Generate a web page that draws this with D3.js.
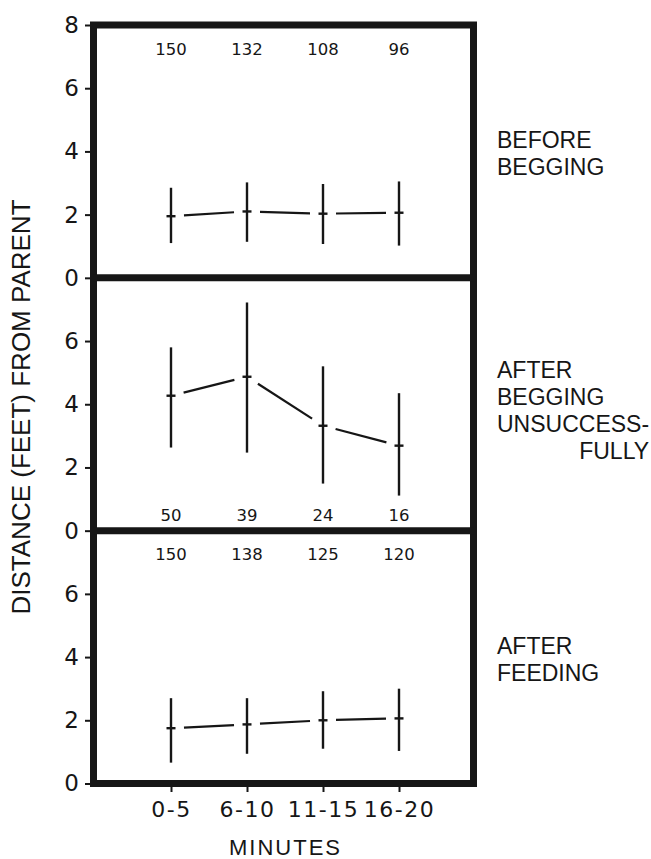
<!DOCTYPE html>
<html>
<head>
<meta charset="utf-8">
<script src="https://cdn.jsdelivr.net/npm/d3@7/dist/d3.min.js"></script>
<style>
  html, body { margin: 0; padding: 0; background: #fff; }
  svg { display: block; }
  text { font-family: "Liberation Sans", Arial, sans-serif; fill: #161616; }
  .num { font-family: "DejaVu Sans", sans-serif; }
</style>
</head>
<body>
<svg id="chart" width="651" height="859"></svg>
<script>
// ---------- data ----------
const categories = ["0-5", "6-10", "11-15", "16-20"];
const yTicksTop = [0, 2, 4, 6, 8];
const yTicksOther = [0, 2, 4, 6];

const beforeMean = [1.95, 2.10, 2.03, 2.06];
const beforeHigh = [2.85, 3.02, 2.97, 3.05];
const beforeLow  = [1.10, 1.14, 1.07, 1.02];
const beforeN    = [150, 132, 108, 96];

const unsuccMean = [4.27, 4.87, 3.32, 2.69];
const unsuccHigh = [5.80, 7.22, 5.20, 4.35];
const unsuccLow  = [2.63, 2.47, 1.49, 1.11];
const unsuccN    = [50, 39, 24, 16];

const fedMean = [1.75, 1.87, 2.00, 2.06];
const fedHigh = [2.70, 2.70, 2.92, 3.00];
const fedLow  = [0.66, 0.94, 1.10, 1.03];
const fedN    = [150, 138, 125, 120];

const panelLabels = [
  ["BEFORE", "BEGGING"],
  ["AFTER", "BEGGING", "UNSUCCESS-", "FULLY"],
  ["AFTER", "FEEDING"]
];
const yTitle = "DISTANCE (FEET) FROM PARENT";
const xTitle = "MINUTES";

// ---------- layout ----------
const svg = d3.select("#chart");
const frame = { left: 93.5, right: 473.5, top: 25, bottom: 783.5 };
const ink = "#161616";
const numFont = "'DejaVu Sans', sans-serif";

const panels = [
  { mean: beforeMean, hi: beforeHigh, lo: beforeLow, n: beforeN, ticks: yTicksTop, countPos: "top", labels: panelLabels[0] },
  { mean: unsuccMean, hi: unsuccHigh, lo: unsuccLow, n: unsuccN, ticks: yTicksOther, countPos: "bottom", labels: panelLabels[1] },
  { mean: fedMean, hi: fedHigh, lo: fedLow, n: fedN, ticks: yTicksOther, countPos: "top", labels: panelLabels[2] }
];

const panelBand = d3.scaleBand().domain(d3.range(panels.length))
  .range([frame.top, frame.bottom]).paddingInner(0).paddingOuter(0);

const x = d3.scalePoint().domain(categories).range([95, 475]).padding(1);

panels.forEach((p, i) => {
  const top = panelBand(i), bottom = top + panelBand.bandwidth();
  const y = d3.scaleLinear().domain([0, 8]).range([bottom, top]);
  const g = svg.append("g");

  // y axis
  const ax = g.append("g").attr("transform", `translate(${frame.left - 3.5},0)`)
    .call(d3.axisLeft(y).tickValues(p.ticks).tickSize(5).tickPadding(6).tickFormat(d3.format("d")));
  ax.select(".domain").remove();
  ax.selectAll(".tick line").attr("stroke", ink).attr("stroke-width", 2);
  ax.selectAll(".tick text").attr("font-size", 23).attr("fill", ink)
    .style("font-family", numFont);

  // connecting segments with gaps
  const pts = categories.map((c, k) => [x(c), y(p.mean[k])]);
  const gap = 13;
  for (let k = 0; k < pts.length - 1; k++) {
    const [x1, y1] = pts[k], [x2, y2] = pts[k + 1];
    const dx = x2 - x1, dy = y2 - y1, L = Math.hypot(dx, dy);
    const ux = dx / L, uy = dy / L;
    g.append("line")
      .attr("x1", x1 + ux * gap).attr("y1", y1 + uy * gap)
      .attr("x2", x2 - ux * gap).attr("y2", y2 - uy * gap)
      .attr("stroke", ink).attr("stroke-width", 2.2);
  }

  // error bars
  g.selectAll(".eb").data(categories).join("line")
    .attr("x1", d => x(d)).attr("x2", d => x(d))
    .attr("y1", (d, k) => y(p.hi[k])).attr("y2", (d, k) => y(p.lo[k]))
    .attr("stroke", ink).attr("stroke-width", 2.4);
  // mean ticks
  g.selectAll(".mt").data(categories).join("line")
    .attr("x1", d => x(d) - 4.5).attr("x2", d => x(d) + 4.5)
    .attr("y1", (d, k) => y(p.mean[k])).attr("y2", (d, k) => y(p.mean[k]))
    .attr("stroke", ink).attr("stroke-width", 2.4);

  // counts
  g.selectAll(".cnt").data(categories).join("text")
    .attr("x", d => x(d))
    .attr("y", p.countPos === "top" ? top + 29.5 : bottom - 10)
    .attr("text-anchor", "middle").attr("font-size", 16.5)
    .style("font-family", numFont)
    .text((d, k) => p.n[k]);

  // right labels
  const lx = 497;
  const lab = g.append("g");
  const texts = p.labels.map((t, k) => lab.append("text")
    .attr("x", lx).attr("y", top + 123 - (p.labels.length > 2 ? 22.5 : 0) + k * 27)
    .attr("font-size", 23).text(t));
  if (p.labels.length > 2) {
    const w = texts[2].node().getComputedTextLength();
    texts[3].attr("text-anchor", "end").attr("x", lx + w);
  }
});

// frame
svg.append("rect")
  .attr("x", frame.left).attr("y", frame.top)
  .attr("width", frame.right - frame.left).attr("height", frame.bottom - frame.top)
  .attr("fill", "none").attr("stroke", ink).attr("stroke-width", 7);
for (let i = 1; i < panels.length; i++) {
  svg.append("line")
    .attr("x1", frame.left).attr("x2", frame.right)
    .attr("y1", panelBand(i)).attr("y2", panelBand(i))
    .attr("stroke", ink).attr("stroke-width", 7);
}

// x axis
const xa = svg.append("g").attr("transform", `translate(0,${frame.bottom + 3.5})`)
  .call(d3.axisBottom(x).tickSize(5).tickPadding(9));
xa.select(".domain").remove();
xa.selectAll(".tick line").attr("stroke", ink).attr("stroke-width", 2);
xa.selectAll(".tick text").attr("font-size", 22).attr("fill", ink)
  .attr("letter-spacing", 1.5)
  .style("font-family", numFont);

// titles
svg.append("text").attr("x", (frame.left + frame.right) / 2 + 2).attr("y", 855)
  .attr("text-anchor", "middle").attr("font-size", 22).attr("letter-spacing", 2)
  .text(xTitle);
svg.append("text")
  .attr("transform", `translate(30,${407}) rotate(-90)`)
  .attr("text-anchor", "middle").attr("font-size", 26)
  .text(yTitle);
</script>
</body>
</html>
